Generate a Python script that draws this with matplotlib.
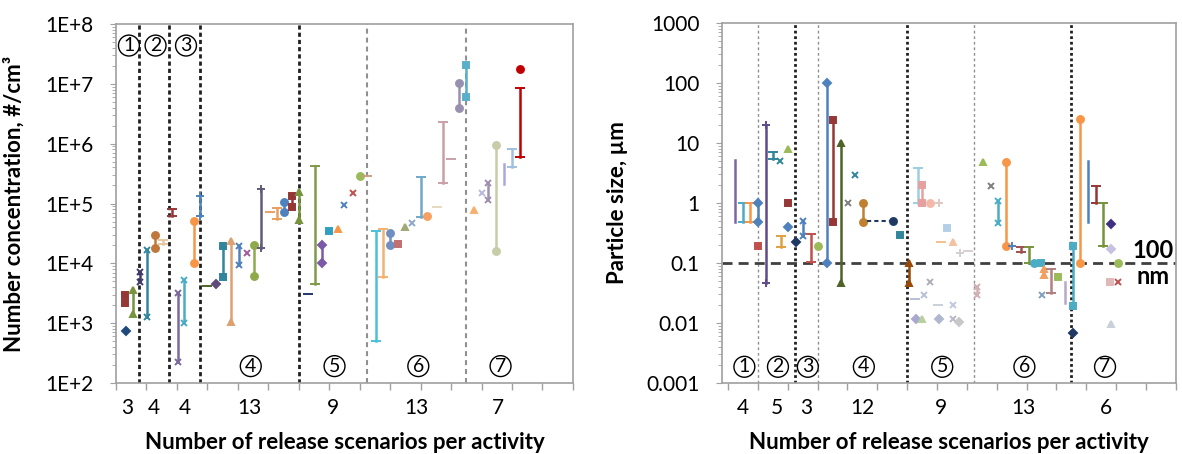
import numpy as np
import matplotlib.pyplot as plt
import matplotlib.transforms as mtransforms

plt.rcParams['font.family'] = ['Lato', 'DejaVu Sans']

## Left panel: number concentration, #/cm3 (one entry per release scenario)
conc_groups = [3, 4, 4, 13, 9, 13, 7]
conc_x = [1.3, 1.2, 2.2, 3.15, 4.1, 5.1, 6.2, 7.3, 8.1, 9.0, 10.2, 11.0,
          11.9, 13.1, 14.0, 15.1, 16.1, 17.2, 18.1, 19.1, 20.2, 21.1, 22.0, 23.1, 24.0,
          25.2, 26.1, 27.1, 28.0, 29.1, 30.0, 31.1, 32.0, 33.0,
          34.1, 35.0, 36.0, 37.0, 38.0, 38.9, 40.0, 40.9, 42.1, 43.0, 44.0, 45.0, 46.0,
          47.0, 48.0, 48.9, 49.9, 51.0, 52.0, 53.1, 53.1]
conc_lo = [750, 2200, 1400, 4900, 1270, 18000, 21000, 62000, 225, 1000, 10000, 62000,
           4200, 4500, 5900, 1050, 9300, 15000, 6100, 18000, 72000, 55000, 72000, 87000, 54000,
           3100, 4500, 10000, 35000, 37000, 95000, 150000, 290000, 290000,
           500, 5900, 20000, 21000, 41000, 48000, 60000, 62000, 87000, 220000, 560000, 4.0e6, 6.0e6,
           78000, 150000, 115000, 16000, 215000, 400000, 600000, 1.8e7]
conc_hi = [750, 3000, 3600, 7200, 17000, 29500, 25000, 80000, 3200, 5300, 51000, 135000,
           4200, 4500, 19500, 23500, 19500, 15000, 20500, 175000, 72000, 85000, 107000, 135000, 155000,
           3100, 430000, 20000, 35000, 37000, 95000, 150000, 290000, 290000,
           35000, 37000, 32000, 21000, 41000, 48000, 280000, 62000, 87000, 2.3e6, 560000, 1.05e7, 2.1e7,
           78000, 150000, 220000, 960000, 450000, 800000, 8.5e6, 1.8e7]
conc_col = ['#1F497D', '#953735', '#77933C', '#403A6B', '#31859C', '#C0783A', '#E4C8A0', '#953735',
            '#7B6A9C', '#4BACC6', '#F79646', '#4F81BD',
            '#4F6228', '#604A7B', '#31859C', '#DDA070', '#4F81BD', '#A05C9C', '#8FAA4B', '#5F5A7A',
            '#E8A060', '#E8A060', '#4F81BD', '#953735', '#77933C',
            '#1F3864', '#7F9A48', '#7B5AA6', '#31A0C0', '#F79646', '#4F81BD', '#C0504D', '#9BBB59', '#C8A080',
            '#4BC0D8', '#F5B070', '#6F8FC0', '#C07070', '#A0A878', '#90A8C8', '#70A8C8', '#F7A060',
            '#E8D8C0', '#C8A0A8', '#C8A0A8', '#9890B0', '#5AAFC8',
            '#F8B070', '#B8B8E0', '#A090B0', '#C8CCA8', '#A8A8E0', '#A0C0E0', '#C00000', '#C00000']
conc_mk = ['D', 's', '^', 'x', 'x', 'o', '_', '_', 'x', 'x', 'o', '+',
           '_', 'D', 's', '^', 'x', 'x', 'o', '+', '_', '_', 'o', 's', '^',
           '_', '_', 'D', 's', '^', 'x', 'x', 'o', '_',
           '_', '_', 'o', 's', '^', 'x', '_', 'o', '_', '_', '_', 'o', 's',
           '^', 'x', 'x', 'o', '', '_', '_', 'o']

## Right panel: particle size, um
size_groups = [4, 5, 3, 12, 9, 13, 6]
size_x = [0.9, 2.0, 3.0, 4.0,
          4.0, 5.1, 6.0, 7.0, 8.0, 7.1, 8.0, 8.0,
          9.1, 10.1, 11.1, 12.1,
          13.2, 14.1, 15.2, 16.1, 17.0, 18.1, 22.1, 23.1, 24.2,
          25.4, 26.0, 27.1, 28.2, 29.3, 28.5, 30.1, 31.1, 32.2,
          27.1, 25.1, 26.2, 28.1, 30.2, 25.2, 26.0, 28.2, 30.2, 31.0, 33.3,
          34.2, 35.2, 36.1, 37.2, 38.1, 39.3, 40.3, 41.0, 41.9, 42.3, 43.2, 42.1,
          44.2, 45.1, 46.2, 46.2,
          47.2, 48.2, 49.3, 50.2, 51.3, 51.3, 52.3, 51.1, 52.2, 51.3]
size_lo = [0.48, 0.48, 0.48, 0.48,
           0.19, 0.047, 5.5, 5.0, 8.0, 0.185, 1.0, 0.4,
           0.22, 0.28, 0.105, 0.19,
           0.1, 0.48, 0.047, 1.0, 2.9, 0.48, 0.5, 0.29, 0.047,
           1.0, 1.0, 1.0, 1.0, 0.38, 0.22, 0.22, 0.145, 0.16,
           0.048, 0.025, 0.029, 0.02, 0.02, 0.0117, 0.0117, 0.0117, 0.0117, 0.0104, 0.029,
           4.8, 1.9, 0.46, 0.19, 0.19, 0.155, 0.1, 0.1, 0.1, 0.063, 0.032, 0.029,
           0.058, 0.0215, 0.019, 0.0068,
           0.1, 0.48, 1.0, 0.19, 0.45, 0.17, 0.1, 0.048, 0.048, 0.0095]
size_hi = [5.2, 1.0, 1.0, 1.0,
           0.19, 20, 7.0, 5.0, 8.0, 0.28, 1.0, 0.4,
           0.22, 0.5, 0.3, 0.19,
           100, 24, 10, 1.0, 2.9, 1.0, 0.5, 0.29, 0.1,
           3.8, 2.0, 1.0, 1.0, 0.38, 0.22, 0.22, 0.145, 0.16,
           0.048, 0.025, 0.029, 0.02, 0.02, 0.0117, 0.0117, 0.0117, 0.0117, 0.0104, 0.04,
           4.8, 1.9, 1.07, 4.9, 0.19, 0.185, 0.185, 0.1, 0.1, 0.08, 0.08, 0.029,
           0.058, 0.048, 0.19, 0.0068,
           25, 5.0, 1.9, 1.0, 0.45, 0.17, 0.1, 0.048, 0.048, 0.0095]
size_col = ['#8064A2', '#4BACC6', '#F79646', '#4F81BD',
            '#C0504D', '#5F4B8B', '#31859C', '#31859C', '#9BBB59', '#E0A040', '#953735', '#4F81BD',
            '#1F3864', '#4F81BD', '#C0504D', '#9BBB59',
            '#4F81BD', '#953735', '#4F6228', '#808080', '#31859C', '#C08030', '#1F3864', '#31859C', '#984807',
            '#9CCFE0', '#E6A0A0', '#F4B8A8', '#E0C8C0', '#B4D0E8', '#F4C090', '#F4C0A0', '#D0D0D0', '#D8D0D0',
            '#B0B0B8', '#B8C0D8', '#B8C0D8', '#C8D0D8', '#C0C8E0', '#A8A8D0', '#B8D0A0', '#B0B8D0',
            '#B8B8C8', '#C8C8C8', '#D0B0B0',
            '#9BBB59', '#7F7F7F', '#4BACC6', '#F79646', '#4F81BD', '#A05050', '#77933C', '#4BACC6',
            '#4BACC6', '#F0A060', '#B08080', '#80A0C0', '#9BBB59', '#B8A8C8', '#4BACC6', '#1F3864',
            '#F79646', '#4F81BD', '#953735', '#77933C', '#403080', '#C8C0E0', '#9BBB59', '#E0B8B8',
            '#C05050', '#C8D0D8']
size_mk = ['', '_', '_', 'D',
           's', '+', '_', 'x', '^', '_', 's', 'D',
           'D', 'x', '_', 'o',
           'D', 's', '^', 'x', 'x', 'o', 'o', 's', '^',
           '_', 's', 'o', '+', 's', '_', '^', '+', '_',
           'x', '_', 'x', '_', 'x', 'D', '^', 'D', 'x', 'D', 'x',
           '^', 'x', 'x', 'o', '+', '_', '_', 'o', 's', '^', '_', 'x',
           's', '', 's', 'D',
           'o', '', '_', '_', 'D', 'D', 'o', 's', 'x', '^']

fs = 15  # tick font size
ms = {'D': 4, 's': 5, 'o': 5, '^': 5, 'x': 5, '+': 6, '_': 7, '': 0}


def draw(ax, xs, lo, hi, col, mk):
    for x, a, b, c, m in zip(xs, lo, hi, col, mk):
        if a == b:
            ax.plot([x], [a], color=c, marker=m, ms=ms[m], mew=1.4, ls='none')
        else:
            ax.plot([x, x], [a, b], color=c, lw=1.8, marker=m if m else None,
                    ms=ms[m], mew=1.4)


def style(ax, groups, ylim, ylabel, xlim, last_shift):
    ax.set_yscale('log')
    ax.set_ylim(*ylim)
    ax.set_xlim(*xlim)
    edges = np.cumsum(groups)
    centers = edges - np.array(groups) / 2
    labpos = centers.copy()
    labpos[-1] += last_shift
    ax.set_xticks(labpos)
    ax.set_xticklabels([str(g) for g in groups], fontsize=fs)
    ax.set_xticks(np.arange(0, 61, 4), minor=True)
    ax.tick_params(axis='x', which='major', length=0, pad=11)
    ax.tick_params(axis='x', which='minor', length=5, color='#A0A0A0', width=1)
    ax.tick_params(axis='y', which='major', length=4, color='#A0A0A0', labelsize=fs, pad=12)
    ax.tick_params(axis='y', which='minor', length=3, color='#A0A0A0')
    for s in ax.spines.values():
        s.set_color('#A0A0A0')
        s.set_linewidth(1.2)
    ax.set_ylabel(ylabel, fontsize=16, fontweight='bold')
    ax.set_xlabel('Number of release scenarios per activity', fontsize=16,
                  fontweight='bold', va='center')
    ax.xaxis.set_label_coords(0.5, -0.166)
    return edges, centers


def circles(ax, xs, labels, yfrac):
    tr = mtransforms.blended_transform_factory(ax.transData, ax.transAxes)
    for x, t in zip(xs, labels):
        ax.text(x, yfrac, t, transform=tr, ha='center', va='center', fontsize=14,
                bbox=dict(boxstyle='circle,pad=0.1', fc='white', ec='black', lw=1))


fig = plt.figure(figsize=(11.82, 4.54), dpi=100)
ax1 = fig.add_axes([0.0981, 0.1564, 0.3866, 0.7907])
ax2 = fig.add_axes([0.6108, 0.1564, 0.3841, 0.793])

# Left
edges, centers = style(ax1, conc_groups, (1e2, 1e8), 'Number concentration, #/cm³', (0, 60), 0.6)
ax1.set_yticks([10.0**k for k in range(2, 9)])
ax1.set_yticklabels(['1E+%d' % k for k in range(2, 9)])
for e in edges[:4]:
    ax1.axvline(e, color='#202020', lw=2, dashes=(1.5, 1.1), zorder=1)
for e in edges[4:6]:
    ax1.axvline(e, color='#909090', lw=1.5, dashes=(2.4, 1.9), zorder=1)
draw(ax1, conc_x, conc_lo, conc_hi, conc_col, conc_mk)
circles(ax1, centers[:3] + 0.2, ['1', '2', '3'], 0.94)
circles(ax1, centers[3:] + [0.2, 0.2, 0.2, 1.0], ['4', '5', '6', '7'], 0.047)
ax1.yaxis.set_label_coords(-0.199, 0.5)

# Right
edges2, centers2 = style(ax2, size_groups, (1e-3, 1e3), 'Particle size, µm', (-0.8, 60), 1.6)
ax2.set_yticks([10.0**k for k in range(-3, 4)])
ax2.set_yticklabels(['0.001', '0.01', '0.1', '1', '10', '100', '1000'])
for i, e in enumerate(edges2[:6]):
    if i in (1, 3, 5):
        ax2.axvline(e, color='#202020', lw=2, dashes=(1, 1), zorder=1)
    else:
        ax2.axvline(e, color='#909090', lw=1, dashes=(2, 2), zorder=1)
ax2.axhline(0.1, color='#404040', lw=2, dashes=(3.6, 2.2), zorder=1)
draw(ax2, size_x, size_lo, size_hi, size_col, size_mk)
ax2.plot([18.6, 22.1], [0.5, 0.5], color='#1F3864', lw=1.5, dashes=(2, 1.5))
circles(ax2, centers2 + [0.2, 0.2, 0.2, 0.2, 0.2, 0.2, 1.5], ['1', '2', '3', '4', '5', '6', '7'], 0.045)
ax2.text(0.95, 0.368, '100', transform=ax2.transAxes, ha='center', va='center',
         fontsize=17, fontweight='bold')
ax2.text(0.95, 0.296, 'nm', transform=ax2.transAxes, ha='center', va='center',
         fontsize=17, fontweight='bold')
ax2.yaxis.set_label_coords(-0.207, 0.5)

fig.savefig('out.png', dpi=100)
